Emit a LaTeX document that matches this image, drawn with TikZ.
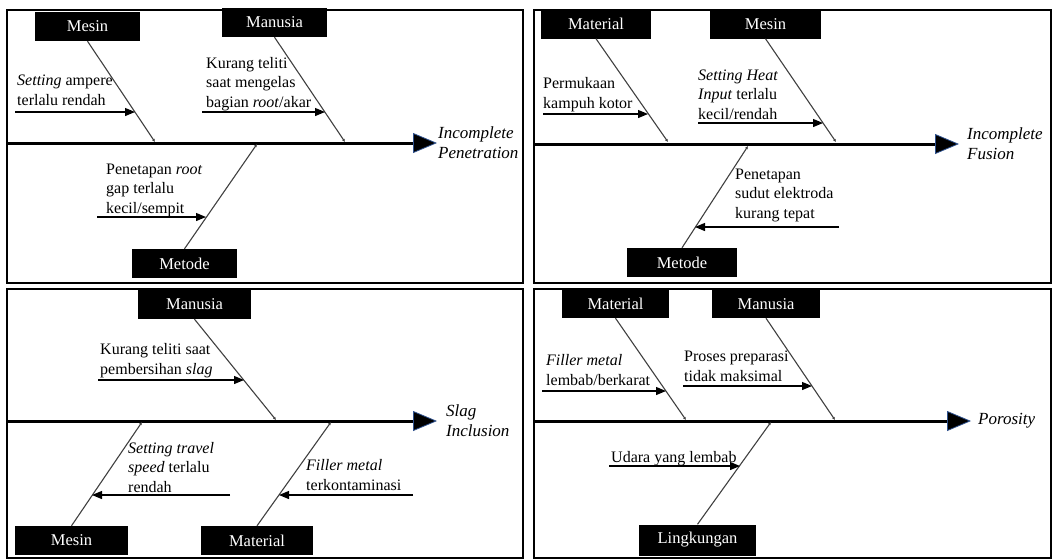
\documentclass[tikz,border=0pt]{standalone}
\usepackage{fontspec}
\setmainfont{Liberation Serif}
\usepackage{xcolor}
\usepackage{tikz}
\usetikzlibrary{arrows.meta, positioning}
\definecolor{bone-grey}{gray}{.25}
\definecolor{head-edge}{RGB}{47,82,143}
\tikzstyle{cause} = [rectangle, fill=black, text=white, minimum height=29pt, inner sep=0pt, font=\fontsize{16.5}{20}\selectfont]
\tikzstyle{note} = [anchor=base west, inner sep=0pt, align=left, font=\fontsize{16}{19.5}\selectfont]
\tikzstyle{effect} = [inner sep=0pt, align=left, font=\fontsize{17}{20}\selectfont\itshape]
\tikzstyle{panel} = [line width=2pt]
\tikzstyle{spine} = [line width=3pt, -{Triangle[length=24pt, width=20pt, fill=black, color=head-edge, line width=0.8pt]}]
\tikzstyle{bone} = [line width=1.1pt, draw=bone-grey, -{Latex[length=3pt, width=3pt]}]
\tikzstyle{arrow} = [line width=1.2pt, -{Triangle[length=10pt, width=8pt]}]

\begin{document}
\begin{tikzpicture}[x=1pt, y=-1pt]

    \useasboundingbox (0,0) rectangle (1052,558);

    % ===============================
    % 1. INCOMPLETE PENETRATION (top left)
    % ===============================
    \begin{scope}
        \draw[panel] (7,10) rectangle (523,283);

        % spine and effect
        \coordinate (p1s) at (7,143);
        \coordinate (p1t) at (437,143);
        \node[effect, right=1pt of p1t] (p1e) {Incomplete\\Penetration};
        \draw[spine] (p1s) -- (p1t);

        % causes
        \node[cause, minimum width=105pt] (p1mesin) at (87.5,26.5) {Mesin};
        \node[cause, minimum width=105pt] (p1manusia) at (274.5,22.5) {Manusia};
        \node[cause, minimum width=105pt] (p1metode) at (184.5,263.5) {Metode};

        \coordinate (p1j1) at (155,142);
        \coordinate (p1j2) at (345,142);
        \coordinate (p1j3) at (257,144);
        \draw[bone] (p1mesin.south) -- (p1j1);
        \draw[bone] (p1manusia.south) -- (p1j2);
        \draw[bone] (p1metode.north) -- (p1j3);

        % sub causes (base = last line)
        \node[note] (p1n1) at (17,105) {\textit{Setting} ampere\\terlalu rendah};
        \node[note] (p1n2) at (206,107) {Kurang teliti\\saat mengelas\\bagian \textit{root}/akar};
        \node[note] (p1n3) at (106,213) {Penetapan \textit{root}\\gap terlalu\\kecil/sempit};

        \coordinate (p1a1) at (15,112);  \coordinate (p1b1) at (135,112);
        \coordinate (p1a2) at (202,112); \coordinate (p1b2) at (325,112);
        \coordinate (p1a3) at (97,217);  \coordinate (p1b3) at (206,217);
        \draw[arrow] (p1a1) -- (p1b1);
        \draw[arrow] (p1a2) -- (p1b2);
        \draw[arrow] (p1a3) -- (p1b3);
    \end{scope}

    % ===============================
    % 2. INCOMPLETE FUSION (top right)
    % ===============================
    \begin{scope}[shift={(526,0)}]
        \draw[panel] (8,10) rectangle (525,283);

        % spine and effect
        \coordinate (p2s) at (8,144);
        \coordinate (p2t) at (433,144);
        \node[effect, right=8pt of p2t] (p2e) {Incomplete\\Fusion};
        \draw[spine] (p2s) -- (p2t);

        % causes
        \node[cause, minimum width=110pt] (p2material) at (70,24) {Material};
        \node[cause, minimum width=111pt] (p2mesin) at (239.5,24) {Mesin};
        \node[cause, minimum width=110pt] (p2metode) at (156,262.5) {Metode};

        \coordinate (p2j1) at (142,142);
        \coordinate (p2j2) at (310,142);
        \coordinate (p2j3) at (222,146);
        \draw[bone] (p2material.south) -- (p2j1);
        \draw[bone] (p2mesin.south) -- (p2j2);
        \draw[bone] (p2metode.north) -- (p2j3);

        % sub causes (base = last line)
        \node[note] (p2n1) at (17,108) {Permukaan\\kampuh kotor};
        \node[note] (p2n2) at (172,119) {\textit{Setting Heat}\\\textit{Input} terlalu\\kecil/rendah};
        \node[note] (p2n3) at (209,218) {Penetapan\\sudut elektroda\\kurang tepat};

        \coordinate (p2a1) at (17,114);  \coordinate (p2b1) at (122,114);
        \coordinate (p2a2) at (172,123); \coordinate (p2b2) at (297,123);
        \coordinate (p2a3) at (313,227); \coordinate (p2b3) at (169,227);
        \draw[arrow] (p2a1) -- (p2b1);
        \draw[arrow] (p2a2) -- (p2b2);
        \draw[arrow] (p2a3) -- (p2b3);
    \end{scope}

    % ===============================
    % 3. SLAG INCLUSION (bottom left)
    % ===============================
    \begin{scope}[shift={(0,278)}]
        \draw[panel] (7,11) rectangle (523,280);

        % spine and effect
        \coordinate (p3s) at (7,143);
        \coordinate (p3t) at (437,143);
        \node[effect, right=9pt of p3t] (p3e) {Slag\\Inclusion};
        \draw[spine] (p3s) -- (p3t);

        % causes
        \node[cause, minimum width=113pt] (p3manusia) at (194.5,26.5) {Manusia};
        \node[cause, minimum width=113pt] (p3mesin) at (71.5,262.5) {Mesin};
        \node[cause, minimum width=112pt] (p3material) at (257,262.5) {Material};

        \coordinate (p3j1) at (276,142);
        \coordinate (p3j2) at (142,144);
        \coordinate (p3j3) at (331,144);
        \draw[bone] (p3manusia.south) -- (p3j1);
        \draw[bone] (p3mesin.north) -- (p3j2);
        \draw[bone] (p3material.north) -- (p3j3);

        % sub causes (base = last line)
        \node[note] (p3n1) at (100,96) {Kurang teliti saat\\pembersihan \textit{slag}};
        \node[note] (p3n2) at (128,214) {\textit{Setting travel}\\\textit{speed} terlalu\\rendah};
        \node[note] (p3n3) at (306,212) {\textit{Filler metal}\\terkontaminasi};

        \coordinate (p3a1) at (98,102);  \coordinate (p3b1) at (244,102);
        \coordinate (p3a2) at (230,217); \coordinate (p3b2) at (92,217);
        \coordinate (p3a3) at (413,217); \coordinate (p3b3) at (279,217);
        \draw[arrow] (p3a1) -- (p3b1);
        \draw[arrow] (p3a2) -- (p3b2);
        \draw[arrow] (p3a3) -- (p3b3);
    \end{scope}

    % ===============================
    % 4. POROSITY (bottom right)
    % ===============================
    \begin{scope}[shift={(526,278)}]
        \draw[panel] (8,11) rectangle (525,280);

        % spine and effect
        \coordinate (p4s) at (8,143);
        \coordinate (p4t) at (445,143);
        \node[effect, right=7pt of p4t] (p4e) {Porosity};
        \draw[spine] (p4s) -- (p4t);

        % causes
        \node[cause, minimum width=107pt, minimum height=28pt] (p4material) at (89.5,26) {Material};
        \node[cause, minimum width=108pt, minimum height=28pt] (p4manusia) at (240,26) {Manusia};
        \node[cause, minimum width=117pt, minimum height=31pt] (p4lingkungan) at (171.5,262) {Lingkungan};

        \coordinate (p4j1) at (160,142);
        \coordinate (p4j2) at (309,142);
        \coordinate (p4j3) at (245,144);
        \draw[bone] (p4material.south) -- (p4j1);
        \draw[bone] (p4manusia.south) -- (p4j2);
        \draw[bone] (p4lingkungan.north) -- (p4j3);

        % sub causes (base = last line)
        \node[note] (p4n1) at (20,107) {\textit{Filler metal}\\lembab/berkarat};
        \node[note] (p4n2) at (158,103) {Proses preparasi\\tidak maksimal};
        \node[note] (p4n3) at (85,184) {Udara yang lembab};

        \coordinate (p4a1) at (16,113);  \coordinate (p4b1) at (140,113);
        \coordinate (p4a2) at (157,108); \coordinate (p4b2) at (286,108);
        \coordinate (p4a3) at (83,188);  \coordinate (p4b3) at (214,188);
        \draw[arrow] (p4a1) -- (p4b1);
        \draw[arrow] (p4a2) -- (p4b2);
        \draw[arrow] (p4a3) -- (p4b3);
    \end{scope}

\end{tikzpicture}
\end{document}
